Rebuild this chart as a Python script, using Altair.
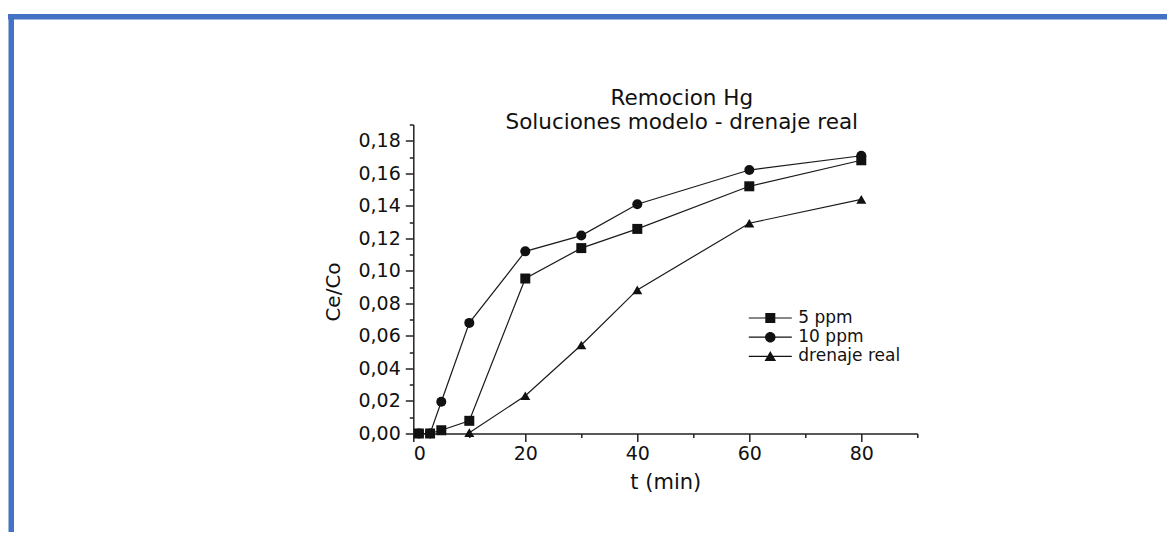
import altair as alt
import pandas as pd

# ---- data ----
series = ["5 ppm", "10 ppm", "drenaje real"]
t_5ppm = [1, 3, 5, 10, 20, 30, 40, 60, 80]
v_5ppm = [0.0, 0.0, 0.002, 0.0078, 0.0953, 0.114, 0.1258, 0.152, 0.168]
t_10ppm = [1, 3, 5, 10, 20, 30, 40, 60, 80]
v_10ppm = [0.0, 0.0, 0.0195, 0.068, 0.112, 0.1217, 0.141, 0.162, 0.1708]
t_real = [10, 20, 30, 40, 60, 80]
v_real = [0.0005, 0.0232, 0.0544, 0.0883, 0.1293, 0.144]

x_major = [0, 20, 40, 60, 80]
x_minor = [10, 30, 50, 70, 90]
y_major = [0.00, 0.02, 0.04, 0.06, 0.08, 0.10, 0.12, 0.14, 0.16, 0.18]
y_minor = [0.01, 0.03, 0.05, 0.07, 0.09, 0.11, 0.13, 0.15, 0.17, 0.19]

title_lines = ["Remocion Hg", "Soluciones modelo - drenaje real"]

rows = []
for name, ts, vs in zip(series, [t_5ppm, t_10ppm, t_real], [v_5ppm, v_10ppm, v_real]):
    for t, v in zip(ts, vs):
        rows.append({"t": t, "v": v, "serie": name})
df = pd.DataFrame(rows)

FONT = "DejaVu Sans"
INK = "#111111"
W, H = 504, 309

xs = alt.Scale(domain=[0, 90], nice=False, zero=False)
ys = alt.Scale(domain=[0, 0.19], nice=False, zero=False)

major_x = alt.Axis(orient="bottom", values=x_major, format="d", tickSize=8,
                   labelPadding=3, labelFontSize=19, labelFont=FONT, labelColor=INK,
                   grid=False, domainColor="#222222", domainWidth=1.5,
                   tickColor="#222222", tickWidth=1.5,
                   title="t (min)", titleFont=FONT, titleFontSize=21,
                   titleFontWeight="normal", titleColor=INK,
                   titleX=W / 2, titleY=55, titleAlign="center",
                   titleBaseline="alphabetic")
major_y = alt.Axis(orient="left", values=y_major,
                   labelExpr="replace(format(datum.value, '.2f'), '.', ',')",
                   tickSize=8, labelPadding=5, labelFontSize=19, labelFont=FONT,
                   labelColor=INK, grid=False, domainColor="#222222",
                   domainWidth=1.5, tickColor="#222222", tickWidth=1.5,
                   title="Ce/Co", titleFont=FONT, titleFontSize=20,
                   titleFontWeight="normal", titleColor=INK, titleAngle=270,
                   titleX=-74, titleY=167, titleAlign="center",
                   titleBaseline="alphabetic")
minor_x = alt.Axis(orient="bottom", values=x_minor, tickSize=4, labels=False,
                   domain=False, grid=False, tickColor="#222222", tickWidth=1.5,
                   title=None)
minor_y = alt.Axis(orient="left", values=y_minor, tickSize=4, labels=False,
                   domain=False, grid=False, tickColor="#222222", tickWidth=1.5,
                   title=None)

lines = alt.Chart(df).mark_line(color="#1a1a1a", strokeWidth=1.2).encode(
    x=alt.X("t:Q", scale=xs, axis=major_x),
    y=alt.Y("v:Q", scale=ys, axis=major_y),
    detail="serie:N",
)

points = alt.Chart(df).mark_point(filled=True, opacity=1, color=INK, size=100).encode(
    x=alt.X("t:Q", scale=xs, axis=None),
    y=alt.Y("v:Q", scale=ys, axis=None),
    shape=alt.Shape("serie:N",
                    scale=alt.Scale(domain=series,
                                    range=["square", "circle", "triangle-up"]),
                    legend=None),
)

# legend glyphs: a short line segment (thin filled bar) with the marker on it
legend_paths = [
    "M-4.3,-0.12H4.3V0.12H-4.3ZM-1,-1H1V1H-1Z",
    "M-4.3,-0.12H4.3V0.12H-4.3ZM1.05,0A1.05,1.05,0,1,1,-1.05,0A1.05,1.05,0,1,1,1.05,0Z",
    "M-4.3,-0.12H4.3V0.12H-4.3ZM0,-1.1L1.15,0.9L-1.15,0.9Z",
]

legend_layer = alt.Chart(df).mark_point(filled=True, color=INK,
                                        opacity=0, size=100).encode(
    x=alt.X("t:Q", scale=xs, axis=minor_x),
    y=alt.Y("v:Q", scale=ys, axis=minor_y),
    shape=alt.Shape("serie:N",
                    scale=alt.Scale(domain=series, range=legend_paths),
                    legend=alt.Legend(orient="none", legendX=348.5, legendY=185,
                                      title=None, symbolSize=100, symbolOpacity=1,
                                      symbolFillColor=INK, symbolStrokeWidth=0,
                                      labelFont=FONT,
                                      labelFontSize=17, labelColor=INK,
                                      labelOffset=19.5, rowPadding=1.2, padding=0)),
)

frame_data = alt.Data(values=[{"k": 1}])
frame_top = alt.Chart(frame_data).mark_rule(color="#4472C4", strokeWidth=5.5).encode(
    x=alt.value(-406), x2=alt.value(760), y=alt.value(-107.75))
frame_left = alt.Chart(frame_data).mark_rule(color="#4472C4", strokeWidth=5.5).encode(
    x=alt.value(-402.05), y=alt.value(-110.5), y2=alt.value(420))

chart = alt.layer(lines, points, legend_layer, frame_top, frame_left).resolve_scale(
    shape="independent"
).resolve_axis(
    x="independent", y="independent"
).properties(
    width=W, height=H,
    background="white",
    autosize=alt.AutoSizeParams(type="none"),
    padding={"left": 405.3, "top": 116.5, "right": 249.7, "bottom": 98.5},
    title=alt.TitleParams(text=title_lines, font=FONT, fontSize=21.5,
                          fontWeight="normal", color=INK, anchor="middle",
                          frame="group", offset=0, dx=16.5, dy=144,
                          lineHeight=24, baseline="bottom"),
).configure_view(stroke="transparent", strokeWidth=0)

chart.save("out.html", embed_options={"renderer": "svg", "actions": False})
